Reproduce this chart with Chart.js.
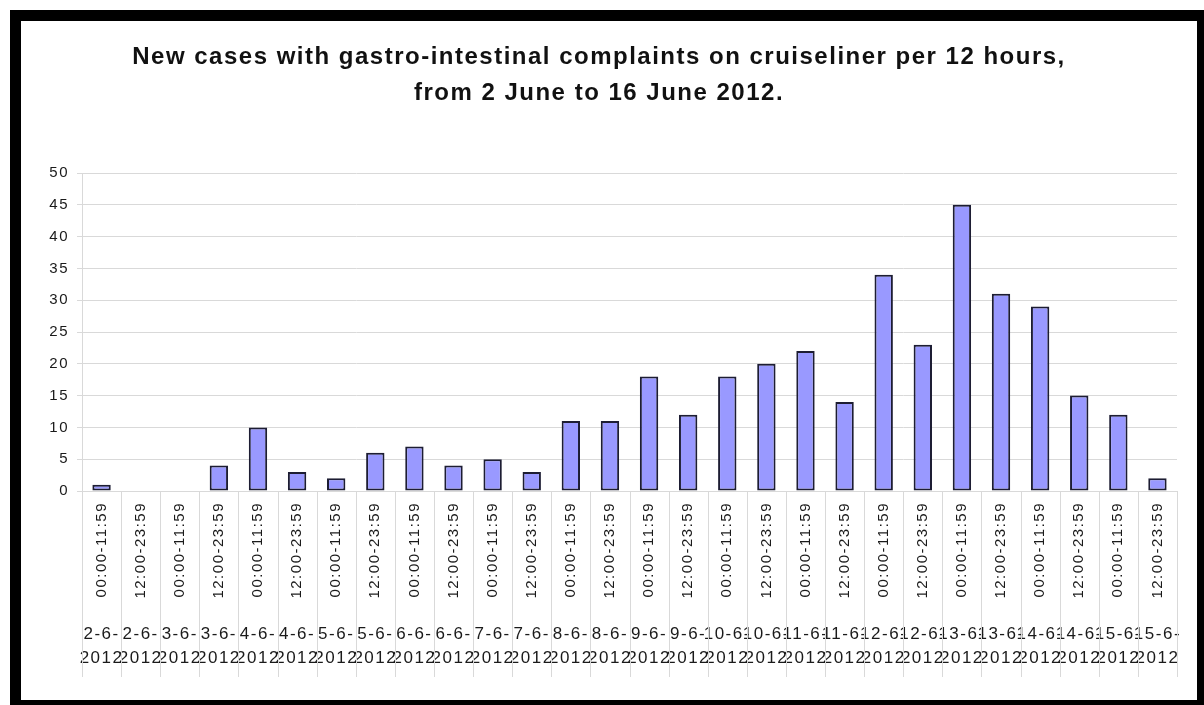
<!DOCTYPE html>
<html>
<head>
<meta charset="utf-8">
<script src="https://cdn.jsdelivr.net/npm/chart.js@4/dist/chart.umd.min.js"></script>
<style>
  html, body { margin: 0; padding: 0; background: #fff; }
  #frame {
    position: absolute; left: 10px; top: 10px;
    width: 1176px; height: 679px;
    border: 11px solid #000; background: #fff;
  }
  #frame canvas { display: block; }
</style>
</head>
<body>
<div id="frame"><canvas id="chart"></canvas></div>
<script>
// Twelve-hour reporting periods
const periods = [
  '00:00-11:59','12:00-23:59','00:00-11:59','12:00-23:59','00:00-11:59','12:00-23:59','00:00-11:59',
  '12:00-23:59','00:00-11:59','12:00-23:59','00:00-11:59','12:00-23:59','00:00-11:59','12:00-23:59',
  '00:00-11:59','12:00-23:59','00:00-11:59','12:00-23:59','00:00-11:59','12:00-23:59','00:00-11:59',
  '12:00-23:59','00:00-11:59','12:00-23:59','00:00-11:59','12:00-23:59','00:00-11:59','12:00-23:59'
];
// Date of each period
const dates = [
  '2-6-2012','2-6-2012','3-6-2012','3-6-2012','4-6-2012','4-6-2012','5-6-2012',
  '5-6-2012','6-6-2012','6-6-2012','7-6-2012','7-6-2012','8-6-2012','8-6-2012',
  '9-6-2012','9-6-2012','10-6-2012','10-6-2012','11-6-2012','11-6-2012','12-6-2012',
  '12-6-2012','13-6-2012','13-6-2012','14-6-2012','14-6-2012','15-6-2012','15-6-2012'
];
// New cases per period
const newCases = [1, 0, 0, 4, 10, 3, 2, 6, 7, 4, 5, 3, 11, 11, 18, 12, 18, 20, 22, 14, 34, 23, 45, 31, 29, 15, 12, 2];
const yTicks = { min: 0, max: 50, step: 5 };

const titleLines = [
  'New cases with gastro-intestinal complaints on cruiseliner per 12 hours,',
  'from 2 June to 16 June 2012.'
];

// the narrow date column wraps "d-m-yyyy" after the month
const dateLines = dates.map(d => {
  const m = d.match(/^(\d+-\d+-)(\d+)$/);
  return m ? [m[1], m[2]] : [d];
});

const FONT = '"Liberation Sans", Arial, Helvetica, sans-serif';
const GRID = '#d9d9d9';
const INK = '#1a1a1a';

// text in this chart is set a little wide
const textSpacing = {
  id: 'textSpacing',
  beforeUpdate(chart) { chart.ctx.letterSpacing = '1.5px'; },
  beforeDraw(chart) { chart.ctx.letterSpacing = '1.5px'; }
};

// column dividers running through both label rows
const categoryDividers = {
  id: 'categoryDividers',
  afterDraw(chart) {
    const xs = chart.scales.x, x2 = chart.scales.x2;
    const n = xs.ticks.length;
    const ctx = chart.ctx;
    ctx.save();
    ctx.strokeStyle = GRID;
    ctx.lineWidth = 1;
    for (let i = 0; i <= n; i++) {
      const px = Math.round(xs.left + i * xs.width / n) + 0.5;
      ctx.beginPath();
      ctx.moveTo(px, chart.chartArea.bottom);
      ctx.lineTo(px, x2.bottom);
      ctx.stroke();
    }
    ctx.restore();
  }
};

new Chart(document.getElementById('chart'), {
  type: 'bar',
  data: {
    labels: periods,
    datasets: [{
      data: newCases,
      backgroundColor: '#9999ff',
      borderColor: '#1d1d33',
      borderWidth: 2,
      borderSkipped: false,
      barPercentage: 0.47,
      categoryPercentage: 1
    }]
  },
  options: {
    responsive: true,
    maintainAspectRatio: false,
    animation: false,
    layout: { padding: { left: 0, right: 20, top: 0, bottom: 23 } },
    plugins: {
      legend: { display: false },
      tooltip: { enabled: false },
      title: {
        display: true,
        text: titleLines,
        color: '#111',
        font: { family: FONT, size: 24, weight: 'bold', lineHeight: 1.48 },
        padding: { top: 19, bottom: 62 }
      }
    },
    scales: {
      y: {
        min: yTicks.min, max: yTicks.max,
        ticks: {
          stepSize: yTicks.step, color: INK, padding: 8,
          font: { family: FONT, size: 15 }
        },
        grid: { color: GRID, tickLength: 5, drawTicks: true },
        border: { display: true, color: GRID },
        afterFit(scale) { scale.width = 61; }
      },
      x: {
        weight: 0,
        offset: true,
        ticks: {
          autoSkip: false, minRotation: 90, maxRotation: 90,
          color: INK, padding: 11,
          font: { family: FONT, size: 15 }
        },
        grid: { display: false, drawTicks: false },
        border: { display: false },
        afterFit(scale) { scale.height = 128; }
      },
      x2: {
        type: 'category',
        position: 'bottom',
        weight: 1,
        offset: true,
        labels: dateLines,
        ticks: {
          autoSkip: false, maxRotation: 0, minRotation: 0,
          color: INK, padding: 3,
          font: { family: FONT, size: 17, lineHeight: 1.42 }
        },
        grid: { display: false, drawTicks: false },
        border: { display: false },
        afterFit(scale) { scale.height = 58; }
      }
    }
  },
  plugins: [textSpacing, categoryDividers]
});
</script>
</body>
</html>
